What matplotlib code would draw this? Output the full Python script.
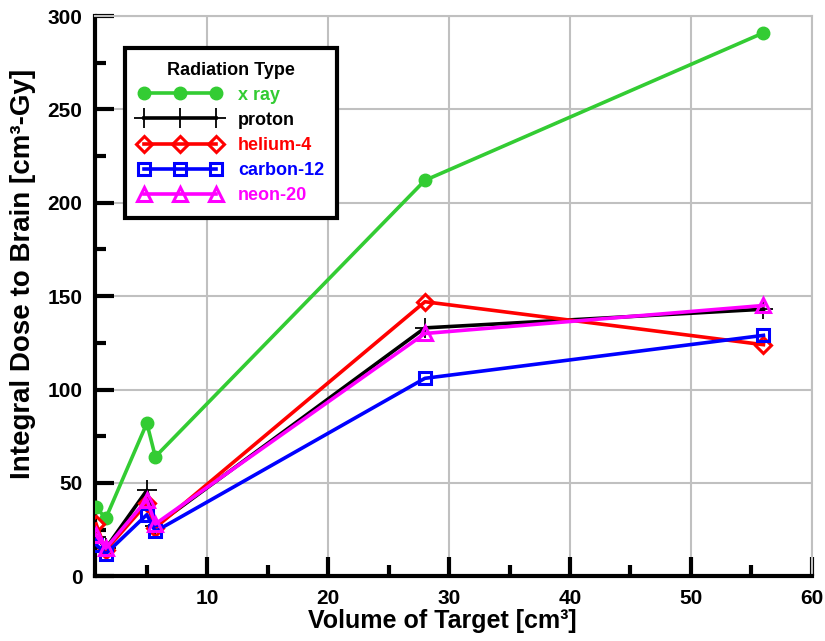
import numpy as np
import matplotlib
matplotlib.use('Agg')
import matplotlib.pyplot as plt
from matplotlib.ticker import MultipleLocator

plt.rcParams['font.family'] = ['Liberation Sans', 'DejaVu Sans']
plt.rcParams['font.weight'] = 'bold'

volume = [0.8, 1.6, 5.0, 5.7, 28, 56]

xray = [37, 31, 82, 64, 212, 291]
proton = [21, 15, 46, 27, 133, 143]
helium4 = [28, 14, 39, 26, 147, 124]
carbon12 = [17, 12, 33, 24, 106, 129]
neon20 = [22, 15, 41, 28, 130, 145]

series = [
    ('x ray', xray, '#33cc33', 'o'),
    ('proton', proton, 'black', '+'),
    ('helium-4', helium4, '#ff0000', 'D'),
    ('carbon-12', carbon12, '#0000ff', 's'),
    ('neon-20', neon20, '#ff00ff', '^'),
]

fig = plt.figure(figsize=(8.25, 6.41), dpi=100)
ax = fig.add_axes([0.115, 0.101, 0.869, 0.874])

for name, vals, col, mk in series:
    if mk == 'o':
        ax.plot(volume, vals, color=col, lw=2.6, marker=mk, ms=9,
                mfc=col, mec=col, label=name, zorder=3)
    elif mk == '+':
        ax.plot(volume, vals, color=col, lw=2.6, marker=mk, ms=14,
                mew=1.3, label=name, zorder=3)
    else:
        ms = {'D': 8.5, 's': 8, '^': 10}[mk]
        ax.plot(volume, vals, color=col, lw=2.6, marker=mk, ms=ms,
                mfc='none', mec=col, mew=2.2, label=name, zorder=3)

ax.set_xlim(0.7, 60)
ax.set_ylim(0, 300)
ax.xaxis.set_major_locator(MultipleLocator(10))
ax.xaxis.set_minor_locator(MultipleLocator(5))
ax.yaxis.set_major_locator(MultipleLocator(50))
ax.yaxis.set_minor_locator(MultipleLocator(25))
ax.tick_params(which='major', direction='in', length=14, width=3,
               labelsize=15, top=False, right=False, pad=9)
ax.tick_params(which='minor', direction='in', length=8, width=3,
               top=False, right=False)
ax.grid(True, which='major', color='#c0c0c0', lw=1.5)
ax.set_axisbelow(True)

for s in ['left', 'bottom']:
    ax.spines[s].set_linewidth(3)
for s in ['top', 'right']:
    ax.spines[s].set_color('#c0c0c0')
    ax.spines[s].set_linewidth(1.5)

ax.set_xlabel('Volume of Target [cm³]', fontsize=18, fontweight='bold')
ax.set_ylabel('Integral Dose to Brain [cm³-Gy]', fontsize=20,
              fontweight='bold')
ax.xaxis.set_label_coords(0.484, -0.058)
ax.yaxis.set_label_coords(-0.082, 0.54)

leg = ax.legend(title='Radiation Type', loc='upper left',
                bbox_to_anchor=(0.042, 0.943), borderaxespad=0,
                numpoints=3, handlelength=4.6, fontsize=13,
                title_fontproperties={'weight': 'bold', 'size': 13},
                fancybox=False, framealpha=1, edgecolor='black',
                labelspacing=0.45, borderpad=0.75, handletextpad=0.9)
leg.get_frame().set_linewidth(3)
for txt, (name, vals, col, mk) in zip(leg.get_texts(), series):
    txt.set_color(col)
    txt.set_fontweight('bold')

fig.savefig('out.png', dpi=100)
